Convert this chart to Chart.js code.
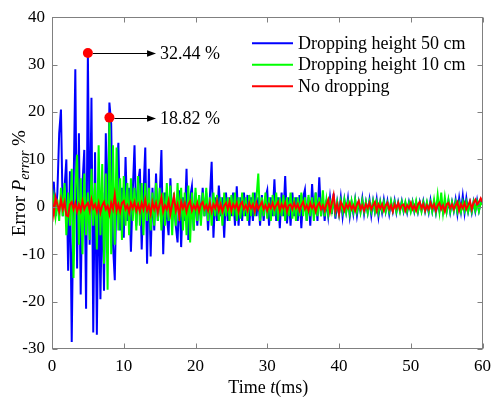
<!DOCTYPE html>
<html>
<head>
<meta charset="utf-8">
<script src="https://cdn.jsdelivr.net/npm/chart.js@4/dist/chart.umd.min.js"></script>
<style>
  html, body { margin: 0; padding: 0; background: #fff; }
  #wrap { width: 498px; height: 398px; }
</style>
</head>
<body>
<div id="wrap"><canvas id="c"></canvas></div>
<script>
/* error signal, three dropping cases, sampled every 0.25 ms */
const sampleStep = 0.25;   // ms
const xTicks = [0, 10, 20, 30, 40, 50, 60];
const yTicks = [-30, -20, -10, 0, 10, 20, 30, 40];
const seriesLabels = ['Dropping height 50 cm', 'Dropping height 10 cm', 'No dropping'];

const drop50 = [
  0, 5.3, -2, 3, 15.5, 20.5, -2, 4,
  10, -13.5, 7.5, -28.5, 3, 29, -13, 15.5,
  -18.5, 5, 12, -21.5, 32.44, -8, 23, -26.5,
  11.5, -27, 6, -19.5, 3, -17.7, 15.5, -5,
  22, 17.5, -8, -15.5, 6, 13.5, -5, 4,
  -6.5, 10.5, -3, 4, -9.5, 3, 13, -4,
  5, 8, -9, 3, 12.5, -12, 8, -10.5,
  4, -5, 7, -3, 2, 12, -10, 3,
  -2, -6, 6, -3, 2, -4, -7.5, 3.5,
  -8.5, 2, -3, 8, -7, 2, 4.3, -5,
  3, -4, 2.5, -3, 4, -2, 3, -5,
  2, 9.5, -6.5, 2, -3, 4.5, -2, 2,
  -6.5, 3, -3, 2, -2, 3, -4, 4.3,
  -4, 2, -3, 3, -2, 2.5, -4, 2,
  -3, 3, -2, 2, -4, 2.5, -3, 2,
  3.5, -4, 2, -2, 5.8, -3, 2, -4.5,
  3, -2, 6.5, -3.5, 2, -4, 3, -2,
  2, -3, 2.5, -4.5, 2, 3.6, -3, 2,
  -4, 4.8, -2, 3, -3, 6.2, -2, 2,
  -3, 1.5, -2, 2, -1.5, 2.8, -2.5, 1,
  -1.5, 2, -2, 1.5, -1, 1.8, -2, 1,
  -1.5, 1.5, -1.8, 1, -1, 1.8, -1.5, 1,
  -1.2, 1.5, -1.8, 1.2, -1, 1.6, -2, 1,
  -1.2, 1.5, -1, 1.2, -1.5, 1, -1, 1.3,
  -1.2, 1, -0.8, 1.2, -1, 0.8, -1.2, 1,
  -0.8, 1.1, -1, 0.9, -1.1, 1, -0.8, 1.2,
  -1, 0.8, -1.2, 1.4, -1, 0.9, -1.3, 1,
  -0.9, 1.2, -1.1, 0.8, -1, 1.3, -1.2, 1,
  -0.9, 1.5, -1.5, 1.8, -1, 2.3, -1.3, 1.8,
  -1, 0.9, -1.2, 1.1, -1, 1.4, -0.8, 1,
  1.2
];

const drop10 = [
  -1, 2, -2, 1.5, -3, 4, -2, 5,
  -6, 3, -4, 8, -15, 4, 11, -8,
  6, -10, 7, -6, 3, -7, 8, -4,
  5, -9, 13, -6, 9, -12, 7, -17.5,
  18.82, -10, 13, -8, 12.5, -5, 6, -7,
  6.5, -4, 5, -6, 6, -3, 4, -5,
  6.5, -4, 5, -6, 5, -3, 4, -5,
  3, -4, 5, -3, 4, -5, 3, -4,
  5, -3, 4.5, -6, 3, -4, 5, -3,
  4, -5, 3, -6, 4.5, -7.5, 3, -5,
  4, -3, 2.5, -4, 3, -2, 4, -3,
  2, -4, 3, -2, 2.5, -3, 2, -4,
  3, -2, 2, -3, 2.5, -2, 3, -3,
  2, -2.5, 3, -2, 2, -3, 2.5, -2,
  3, -2, 2, 7, -3, 2, -2, 3,
  -2.5, 2, -3, 2.5, -2, 3, -3, 2,
  -2, 2.5, -3, 2, -2, 3, -2.5, 2,
  -3, 2, -2, 3, -2, 2, -3, 2.5,
  -2, 2, -3, 3, -2, 2, -2, 3.5,
  -2, 1.5, -1.5, 1, -1, 1.5, -1.2, 1,
  -1.5, 1.2, -1, 1.5, -1.2, 1, -1.5, 1.2,
  -1, 1.5, -1, 1, -1.2, 1.3, -1, 1,
  -1.3, 1, -1, 1.2, -1, 1, -1.2, 1,
  -0.8, 1, -1, 0.8, -1, 1.2, -0.8, 1,
  -1, 0.8, -1, 1, -0.8, 1, -0.9, 0.8,
  -1, 1, -0.8, 1.2, -1, 0.8, -1, 1,
  -0.8, 1, -1, 0.9, -1, 1.5, -1, 2.5,
  -1, 3, -1.2, 2, -1, 1.5, -1, 1,
  -0.8, 1, -1, 0.8, -1, 1, -0.8, 1,
  -1, 0.8, -1, 1, -0.8, 1, -0.9, 0.8,
  0.5
];

const noDrop = [
  1.5, -1.5, 2, 0.5, -1, 1.5, -0.5, 1,
  -1.8, -2, 0.5, 1, -0.5, 0.8, -1, 0.5,
  -0.8, 1.2, -0.5, 0.3, 0.8, -0.8, 1.5, -0.3,
  0.5, -1, 0.8, -1.2, 0.3, 1, -0.5, 0.2,
  -1.5, 0.8, -0.5, 2.5, -0.8, 0.5, -1, 0.8,
  1.2, -0.5, 0.3, -1.2, 0.8, -0.3, 1, -0.8,
  0.5, -1, 0.8, -0.5, 1.5, -0.8, 0.3, -1.5,
  1, -0.5, 0.8, -1.2, 0.5, 2, -1, 0.3,
  -0.5, 1.2, -1.5, 0.5, 2.2, -0.8, 0.5, -2,
  1, -0.3, 0.8, -1, 0.5, 1.2, -0.8, 0.3,
  -0.5, 0.8, -1, 0.5, 1, -0.5, 0.3, -0.8,
  0.8, -1, 0.5, -0.3, 1.2, -0.8, 0.5, -1,
  0.3, 0.8, -0.5, 1, -0.8, 0.5, -0.3, 0.8,
  -1, 0.5, 1, -0.5, 0.3, -0.8, 0.8, -0.3,
  0.5, -1, 0.8, -0.5, 0.3, 1, -0.5, 0.3,
  -0.8, 0.5, -0.3, 0.8, -0.5, 0.3, 1, -0.8,
  0.5, -0.3, 0.8, -1, 0.3, 0.5, -0.5, 0.8,
  -0.3, 0.5, -0.8, 0.3, 1, -0.5, 0.3, -0.8,
  0.8, -0.3, 0.5, -1, 0.3, 0.8, -0.5, 0.3,
  -0.8, 0.5, 1.5, -1, 0.8, 2.5, -0.8, 0.5,
  -1.5, 1, 0.3, -0.8, 0.5, -0.3, 0.8, -0.5,
  0.3, -0.8, 0.5, 1.2, -0.5, 0.3, -0.8, 0.5,
  -0.3, 0.8, -0.5, 0.3, 1, -0.8, 0.5, -0.3,
  0.5, -0.8, 0.3, 0.8, -0.5, 0.3, -1, 0.5,
  -0.3, 0.8, -0.5, 0.3, 0.5, -0.8, 0.3, -0.3,
  0.8, -0.5, 0.3, -0.8, 0.5, 1, -0.3, 0.5,
  -0.8, 0.3, -0.5, 0.8, -0.3, 0.5, -0.8, 0.3,
  0.8, -0.5, 0.3, -1, 0.5, 0.8, -0.3, 0.5,
  -0.5, 0.3, 1, -0.8, 0.5, -0.3, 0.8, -0.5,
  0.3, 1.2, -0.5, 0.8, 1.5, 0.5, 1, 1.8,
  1
];

// marked peaks
const peakTimes  = [5, 8];
const peakValues = [32.44, 18.82];
const peakLabels = ['32.44 %', '18.82 %'];
const arrowEndTime = 14.5;

const SERIF = '"Liberation Serif", "Times New Roman", serif';
const axisColor = '#808080';

function toPoints(arr) {
  return arr.map((v, i) => ({ x: i * sampleStep, y: v }));
}

// box + inward ticks on all four sides, axis titles
const framePlugin = {
  id: 'frame',
  afterDraw(chart) {
    const { ctx, chartArea: a, scales: { x, y } } = chart;
    const L = Math.round(a.left) + 0.5, R = Math.round(a.right) - 0.5;
    const T = Math.round(a.top) + 0.5, B = Math.round(a.bottom) - 0.5;
    const len = 5;
    ctx.save();
    ctx.strokeStyle = axisColor;
    ctx.lineWidth = 1;
    ctx.strokeRect(L, T, R - L, B - T);
    ctx.beginPath();
    xTicks.forEach(v => {
      const px = Math.round(x.getPixelForValue(v)) + 0.5;
      ctx.moveTo(px, B); ctx.lineTo(px, B - len);
      ctx.moveTo(px, T); ctx.lineTo(px, T + len);
    });
    yTicks.forEach(v => {
      const py = Math.round(y.getPixelForValue(v)) + 0.5;
      ctx.moveTo(L, py); ctx.lineTo(L + len, py);
      ctx.moveTo(R, py); ctx.lineTo(R - len, py);
    });
    ctx.stroke();

    ctx.fillStyle = '#000';
    ctx.textBaseline = 'alphabetic';
    // x title: Time t(ms)
    const xParts = [['Time ', 'normal'], ['t', 'italic'], ['(ms)', 'normal']];
    let wsum = 0;
    xParts.forEach(p => { ctx.font = p[1] + ' 18px ' + SERIF; wsum += ctx.measureText(p[0]).width; });
    let cx = (a.left + a.right) / 2 + 1 - wsum / 2;
    xParts.forEach(p => {
      ctx.font = p[1] + ' 18px ' + SERIF;
      ctx.fillText(p[0], cx, 393);
      cx += ctx.measureText(p[0]).width;
    });

    // y title: Error P_error %
    const yParts = [['Error ', 'normal 19px', 0], ['P', 'italic 19px', 0], ['error', 'italic 14px', 4], [' %', 'normal 19px', 0]];
    wsum = 0;
    yParts.forEach(p => { ctx.font = p[1] + ' ' + SERIF; wsum += ctx.measureText(p[0]).width; });
    ctx.translate(25, (a.top + a.bottom) / 2);
    ctx.rotate(-Math.PI / 2);
    cx = -wsum / 2;
    yParts.forEach(p => {
      ctx.font = p[1] + ' ' + SERIF;
      ctx.fillText(p[0], cx, p[2]);
      cx += ctx.measureText(p[0]).width;
    });
    ctx.restore();
  }
};

// legend inside the plot + peak arrows
const notesPlugin = {
  id: 'notes',
  afterDatasetsDraw(chart) {
    const { ctx, chartArea: a, scales: { x, y } } = chart;
    ctx.save();
    ctx.font = '18px ' + SERIF;
    ctx.textBaseline = 'middle';
    ctx.fillStyle = '#000';

    const lines = chart.data.datasets.filter(d => d.type !== 'scatter');
    lines.forEach((d, i) => {
      const ly = a.top + 26 + i * 21.5;
      ctx.strokeStyle = d.borderColor;
      ctx.lineWidth = 2;
      ctx.beginPath();
      ctx.moveTo(a.left + 200, ly);
      ctx.lineTo(a.left + 241, ly);
      ctx.stroke();
      ctx.fillText(d.label, a.left + 246, ly + 1);
    });

    ctx.strokeStyle = '#000';
    ctx.lineWidth = 1;
    peakTimes.forEach((t, i) => {
      const px = x.getPixelForValue(t);
      const py = Math.round(y.getPixelForValue(peakValues[i])) + 0.5;
      const ex = x.getPixelForValue(arrowEndTime);
      ctx.beginPath();
      ctx.moveTo(px + 5, py);
      ctx.lineTo(ex - 6, py);
      ctx.stroke();
      ctx.beginPath();
      ctx.moveTo(ex, py);
      ctx.lineTo(ex - 9, py - 3.2);
      ctx.lineTo(ex - 9, py + 3.2);
      ctx.closePath();
      ctx.fill();
      ctx.fillText(peakLabels[i], ex + 4, py + 1);
    });
    ctx.restore();
  }
};

const tickFont = { family: SERIF, size: 17 };

new Chart(document.getElementById('c').getContext('2d'), {
  type: 'line',
  data: {
    datasets: [
      {
        type: 'scatter', label: 'peaks',
        data: peakTimes.map((t, i) => ({ x: t, y: peakValues[i] })),
        pointRadius: 5, pointBackgroundColor: '#ff0000', pointBorderWidth: 0,
        order: -1,
      },
      { label: seriesLabels[0], data: toPoints(drop50), borderColor: '#0000ff', borderWidth: 2, pointRadius: 0, order: 3 },
      { label: seriesLabels[1], data: toPoints(drop10), borderColor: '#00ff00', borderWidth: 2, pointRadius: 0, order: 2 },
      { label: seriesLabels[2], data: toPoints(noDrop), borderColor: '#ff0000', borderWidth: 2, pointRadius: 0, order: 1 },
    ],
  },
  options: {
    responsive: true, maintainAspectRatio: false,
    animation: false,
    layout: { padding: { top: 8, right: 11, left: 0, bottom: 0 } },
    elements: { line: { tension: 0, borderJoinStyle: 'miter' } },
    plugins: { legend: { display: false }, tooltip: { enabled: false } },
    scales: {
      x: {
        type: 'linear', min: 0, max: 60,
        ticks: { stepSize: 10, color: '#000', font: tickFont, padding: 7, maxRotation: 0 },
        grid: { display: false, drawTicks: false },
        border: { display: false },
        afterFit(s) { s.height = 49; },
      },
      y: {
        min: -30, max: 40,
        ticks: { stepSize: 10, color: '#000', font: tickFont, padding: 7 },
        grid: { display: false, drawTicks: false },
        border: { display: false },
        afterFit(s) { s.width = 52; },
      },
    },
  },
  plugins: [framePlugin, notesPlugin],
});
</script>
</body>
</html>
